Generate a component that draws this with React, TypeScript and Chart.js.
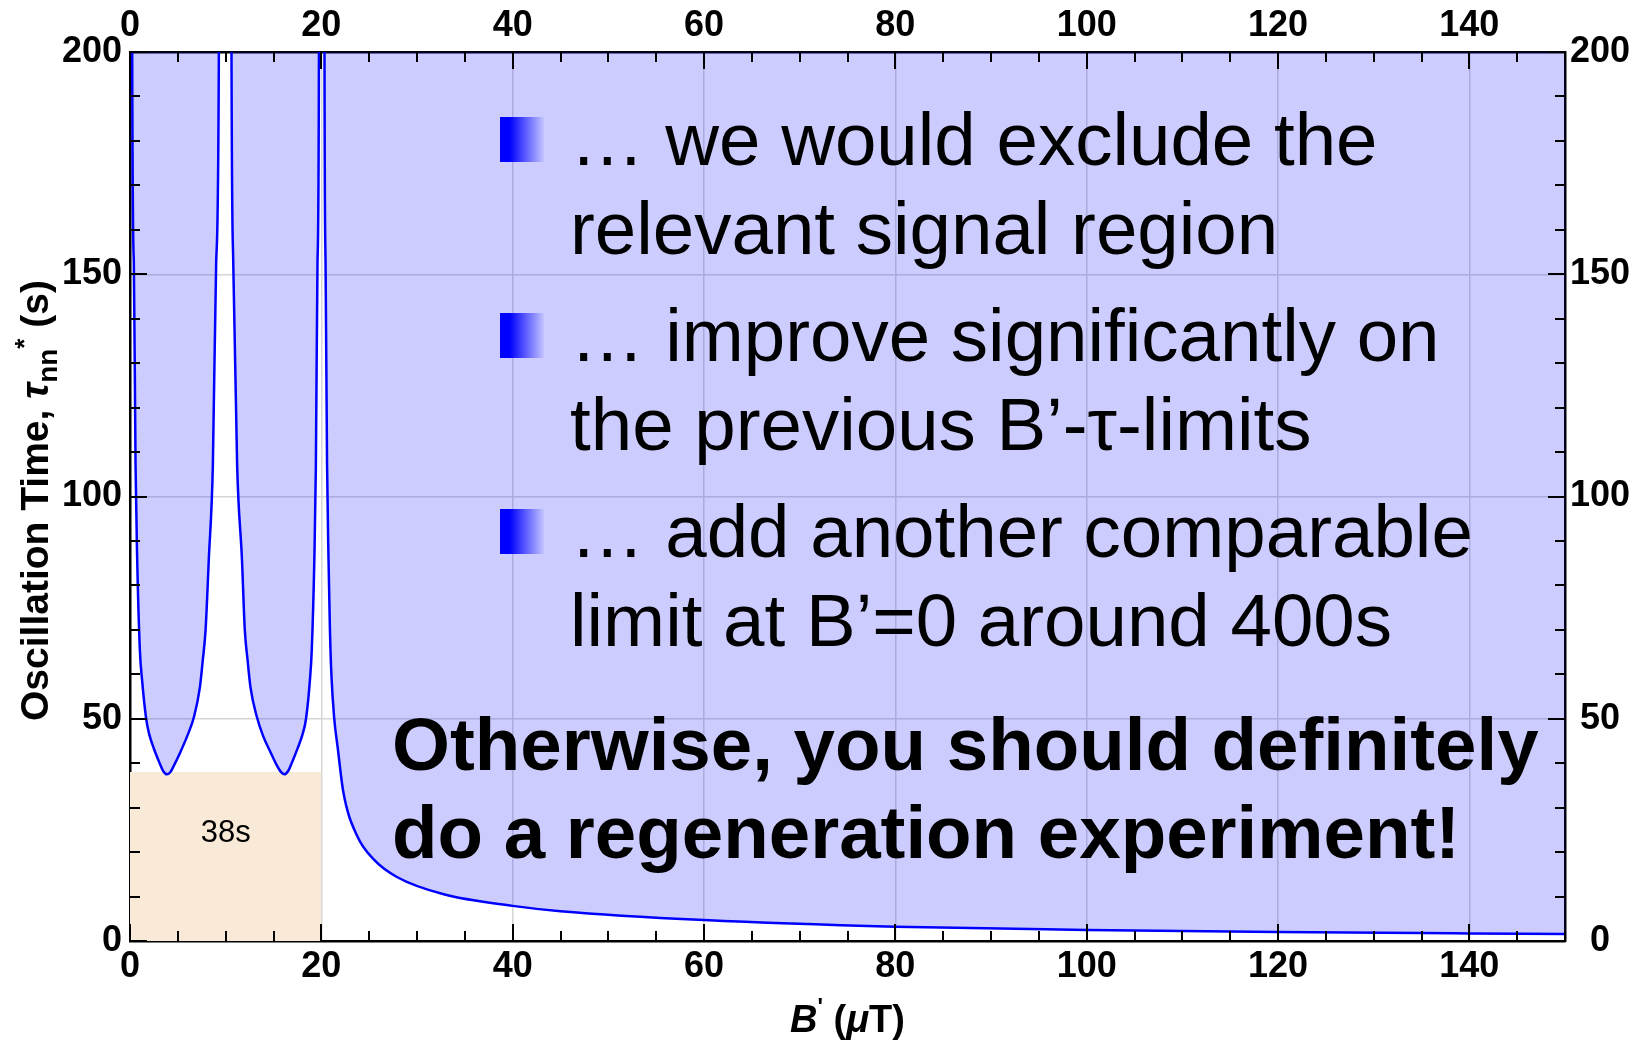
import React, { useEffect, useRef } from "react";
import { Chart, registerables } from "chart.js";

Chart.register(...registerables);

// ---- data ----
const B_FIELD = [
  0, 0.23, 0.4, 0.58, 0.75, 1.03, 1.27, 1.69, 2.0, 2.49,
  3.1, 3.45, 3.85, 4.25, 4.6, 5.2, 6.0, 6.7, 7.3, 7.6,
  7.9, 8.24, 8.66, 9.01, 9.29, 9.95, 10.61, 10.79, 11.2, 11.7,
  12.0, 12.3, 12.6, 13.25, 13.9, 14.75, 15.35, 15.75, 16.15, 16.55,
  16.9, 17.55, 18.05, 18.4, 18.8, 19.0, 19.27, 19.43, 19.6, 19.75,
  20.03, 20.33, 20.44, 20.6, 20.75, 20.9, 21.05, 21.35, 21.7, 22.3,
  23.75, 25.5, 27.9, 32.8, 40, 45, 60, 80, 100, 120,
  140, 150,
];
const TAU_LIMIT = [
  1500, 200, 153, 107, 86, 65.5, 58.5, 50, 46.6, 43.3,
  40, 38.3, 37.5, 38.1, 39.5, 42.2, 46.2, 50.5, 57, 63,
  70, 86, 107, 153, 200, 1500, 200, 153, 107, 86,
  70, 63, 57, 50.5, 46.2, 42.2, 39.5, 38.1, 37.5, 38.3,
  40, 43.5, 46.6, 50, 58.5, 65.5, 86, 107, 153, 200,
  1500, 200, 153, 107, 86, 70, 60, 50, 43.7, 33.5,
  23.6, 18.3, 14.4, 10.5, 7.9, 6.7, 4.7, 3.2, 2.5, 2.0,
  1.7, 1.6,
];
const BOX_B = [0, 20];
const BOX_TAU = [38, 38];
const BOX_LABEL = "38s";
const BOX_LABEL_AT = [10, 22.3];

const X_MAJOR = [0, 20, 40, 60, 80, 100, 120, 140];
const X_MINOR = [5, 10, 15, 25, 30, 35, 45, 50, 55, 65, 70, 75, 85, 90, 95, 105, 110, 115, 125, 130, 135, 145, 150];
const Y_MAJOR = [0, 50, 100, 150, 200];
const Y_MINOR = [10, 20, 30, 40, 60, 70, 80, 90, 110, 120, 130, 140, 160, 170, 180, 190];

const BULLETS = [
  ["\u2026 we would exclude the", "relevant signal region"],
  ["\u2026 improve significantly on", "the previous B\u2019-\u03c4-limits"],
  ["\u2026 add another comparable", "limit at B\u2019=0 around 400s"],
];
const CONCLUSION = ["Otherwise, you should definitely", "do a regeneration experiment!"];

const SANS = "'Liberation Sans', Arial, Helvetica, sans-serif";

const frameTicks = {
  id: "frameTicks",
  afterDatasetsDraw(chart: any) {
    const { ctx, chartArea: a, scales } = chart;
    const xs = scales.x;
    const ys = scales.y;
    ctx.save();
    ctx.strokeStyle = "#000";
    ctx.lineWidth = 2;
    ctx.beginPath();
    const xt = (v: number, len: number) => {
      const p = Math.round(xs.getPixelForValue(v));
      ctx.moveTo(p, a.bottom);
      ctx.lineTo(p, a.bottom - len);
      ctx.moveTo(p, a.top);
      ctx.lineTo(p, a.top + len);
    };
    const yt = (v: number, len: number) => {
      const p = Math.round(ys.getPixelForValue(v));
      ctx.moveTo(a.left, p);
      ctx.lineTo(a.left + len, p);
      ctx.moveTo(a.right, p);
      ctx.lineTo(a.right - len, p);
    };
    X_MAJOR.forEach((v) => xt(v, 17));
    X_MINOR.forEach((v) => xt(v, 10));
    Y_MAJOR.forEach((v) => yt(v, 17));
    Y_MINOR.forEach((v) => yt(v, 10));
    ctx.stroke();
    ctx.restore();
  },
};

function drawPieces(ctx: any, pieces: any[], startX: number) {
  let x = startX;
  for (const p of pieces) {
    ctx.font = p.font;
    ctx.fillText(p.t, x, p.dy || 0);
    x += ctx.measureText(p.t).width;
  }
}
function piecesWidth(ctx: any, pieces: any[]) {
  let w = 0;
  for (const p of pieces) {
    ctx.font = p.font;
    w += ctx.measureText(p.t).width;
  }
  return w;
}

const annotations = {
  id: "annotations",
  afterDatasetsDraw(chart: any) {
    const { ctx, scales } = chart;
    const xs = scales.x;
    const ys = scales.y;
    ctx.save();
    ctx.fillStyle = "#000";
    ctx.textBaseline = "alphabetic";

    // box label
    ctx.font = `31px ${SANS}`;
    ctx.textAlign = "center";
    ctx.fillText(BOX_LABEL, xs.getPixelForValue(BOX_LABEL_AT[0]), ys.getPixelForValue(BOX_LABEL_AT[1]));

    // bullets
    ctx.textAlign = "left";
    const base0 = 165;
    const blockStep = 196;
    const lineStep = 89;
    BULLETS.forEach((lines, i) => {
      const b = base0 + i * blockStep;
      const grad = ctx.createLinearGradient(500, 0, 544, 0);
      grad.addColorStop(0, "#0000ff");
      grad.addColorStop(0.22, "#0000ff");
      grad.addColorStop(1, "#c4c4ff");
      ctx.fillStyle = grad;
      ctx.fillRect(500, b - 48, 44, 45);
      ctx.fillStyle = "#000";
      ctx.font = `74.5px ${SANS}`;
      lines.forEach((ln, j) => ctx.fillText(ln, 570, b + j * lineStep));
    });

    ctx.font = `bold 74.5px ${SANS}`;
    CONCLUSION.forEach((ln, j) => ctx.fillText(ln, 392, 770 + j * 88));
    ctx.restore();
  },
  afterDraw(chart: any) {
    const { ctx, chartArea: a } = chart;
    ctx.save();
    ctx.fillStyle = "#000";
    ctx.textAlign = "left";
    ctx.textBaseline = "alphabetic";
    // y title
    const yp = [
      { t: "Oscillation Time, ", font: `bold 39px ${SANS}` },
      { t: "\u03c4", font: `italic bold 39px ${SANS}` },
      { t: "nn", font: `bold 28px ${SANS}`, dy: 9 },
      { t: "*", font: `bold 26px ${SANS}`, dy: -15 },
      { t: " (s)", font: `bold 39px ${SANS}` },
    ];
    ctx.translate(48, (a.top + a.bottom) / 2 + 4);
    ctx.rotate(-Math.PI / 2);
    drawPieces(ctx, yp, -piecesWidth(ctx, yp) / 2);
    ctx.setTransform(1, 0, 0, 1, 0, 0);
    // x title
    const xp = [
      { t: "B", font: `italic bold 38px ${SANS}` },
      { t: "'", font: `bold 23px ${SANS}`, dy: -17 },
      { t: " (", font: `bold 38px ${SANS}` },
      { t: "\u03bc", font: `italic bold 38px ${SANS}` },
      { t: "T)", font: `bold 38px ${SANS}` },
    ];
    ctx.translate((a.left + a.right) / 2, 1032);
    drawPieces(ctx, xp, -piecesWidth(ctx, xp) / 2);
    ctx.restore();
  },
};

export default function App() {
  const ref = useRef<HTMLCanvasElement | null>(null);
  useEffect(() => {
    const curve = B_FIELD.map((b, i) => ({ x: b, y: TAU_LIMIT[i] }));
    const box = BOX_B.map((b, i) => ({ x: b, y: BOX_TAU[i] }));
    const tickFont = { family: SANS, size: 36, weight: "bold" as const };
    const xTicks = (s: any) => {
      s.ticks = X_MAJOR.map((v) => ({ value: v }));
    };
    const yTicks = (s: any) => {
      s.ticks = Y_MAJOR.map((v) => ({ value: v }));
    };
    const gridOn = { color: "#d6d6d6", lineWidth: 1.5, drawTicks: false };
    const gridOff = { display: false, drawTicks: false };
    const border = { display: true, color: "#000", width: 2.5 };
    const chart = new Chart(ref.current as HTMLCanvasElement, {
      type: "line",
      data: {
        datasets: [
          {
            data: curve,
            borderColor: "#0000ff",
            borderWidth: 2.5,
            backgroundColor: "rgba(0,0,255,0.2)",
            fill: "end",
            pointRadius: 0,
            cubicInterpolationMode: "monotone",
            order: 1,
          },
          {
            data: box,
            borderWidth: 0,
            borderColor: "rgba(0,0,0,0)",
            backgroundColor: "#f8ead6",
            fill: "origin",
            pointRadius: 0,
            order: 2,
          },
        ],
      },
      options: {
        responsive: false,
        animation: false,
        layout: { padding: 0 },
        plugins: { legend: { display: false }, tooltip: { enabled: false } },
        scales: {
          x: {
            type: "linear",
            position: "bottom",
            min: 0,
            max: 150,
            afterBuildTicks: xTicks,
            afterFit: (s: any) => {
              s.height = 99;
            },
            grid: gridOn,
            border,
            ticks: { font: tickFont, color: "#000", padding: 4, maxRotation: 0 },
          },
          x2: {
            type: "linear",
            position: "top",
            min: 0,
            max: 150,
            afterBuildTicks: xTicks,
            afterFit: (s: any) => {
              s.height = 52;
            },
            grid: gridOff,
            border,
            ticks: { font: tickFont, color: "#000", padding: 4, maxRotation: 0 },
          },
          y: {
            type: "linear",
            position: "left",
            min: 0,
            max: 200,
            afterBuildTicks: yTicks,
            afterFit: (s: any) => {
              s.width = 130;
            },
            grid: gridOn,
            border,
            ticks: { font: tickFont, color: "#000", padding: 8 },
          },
          y2: {
            type: "linear",
            position: "right",
            min: 0,
            max: 200,
            afterBuildTicks: yTicks,
            afterFit: (s: any) => {
              s.width = 76;
            },
            grid: gridOff,
            border,
            ticks: { font: tickFont, color: "#000", padding: 5, crossAlign: "center" },
          },
        },
      },
      plugins: [frameTicks, annotations],
    } as any);
    return () => chart.destroy();
  }, []);
  return (
    <div style={{ position: "absolute", left: 0, top: 0, width: 1641, height: 1040, background: "#fff" }}>
      <canvas ref={ref} width={1641} height={1040} style={{ display: "block" }} />
    </div>
  );
}
